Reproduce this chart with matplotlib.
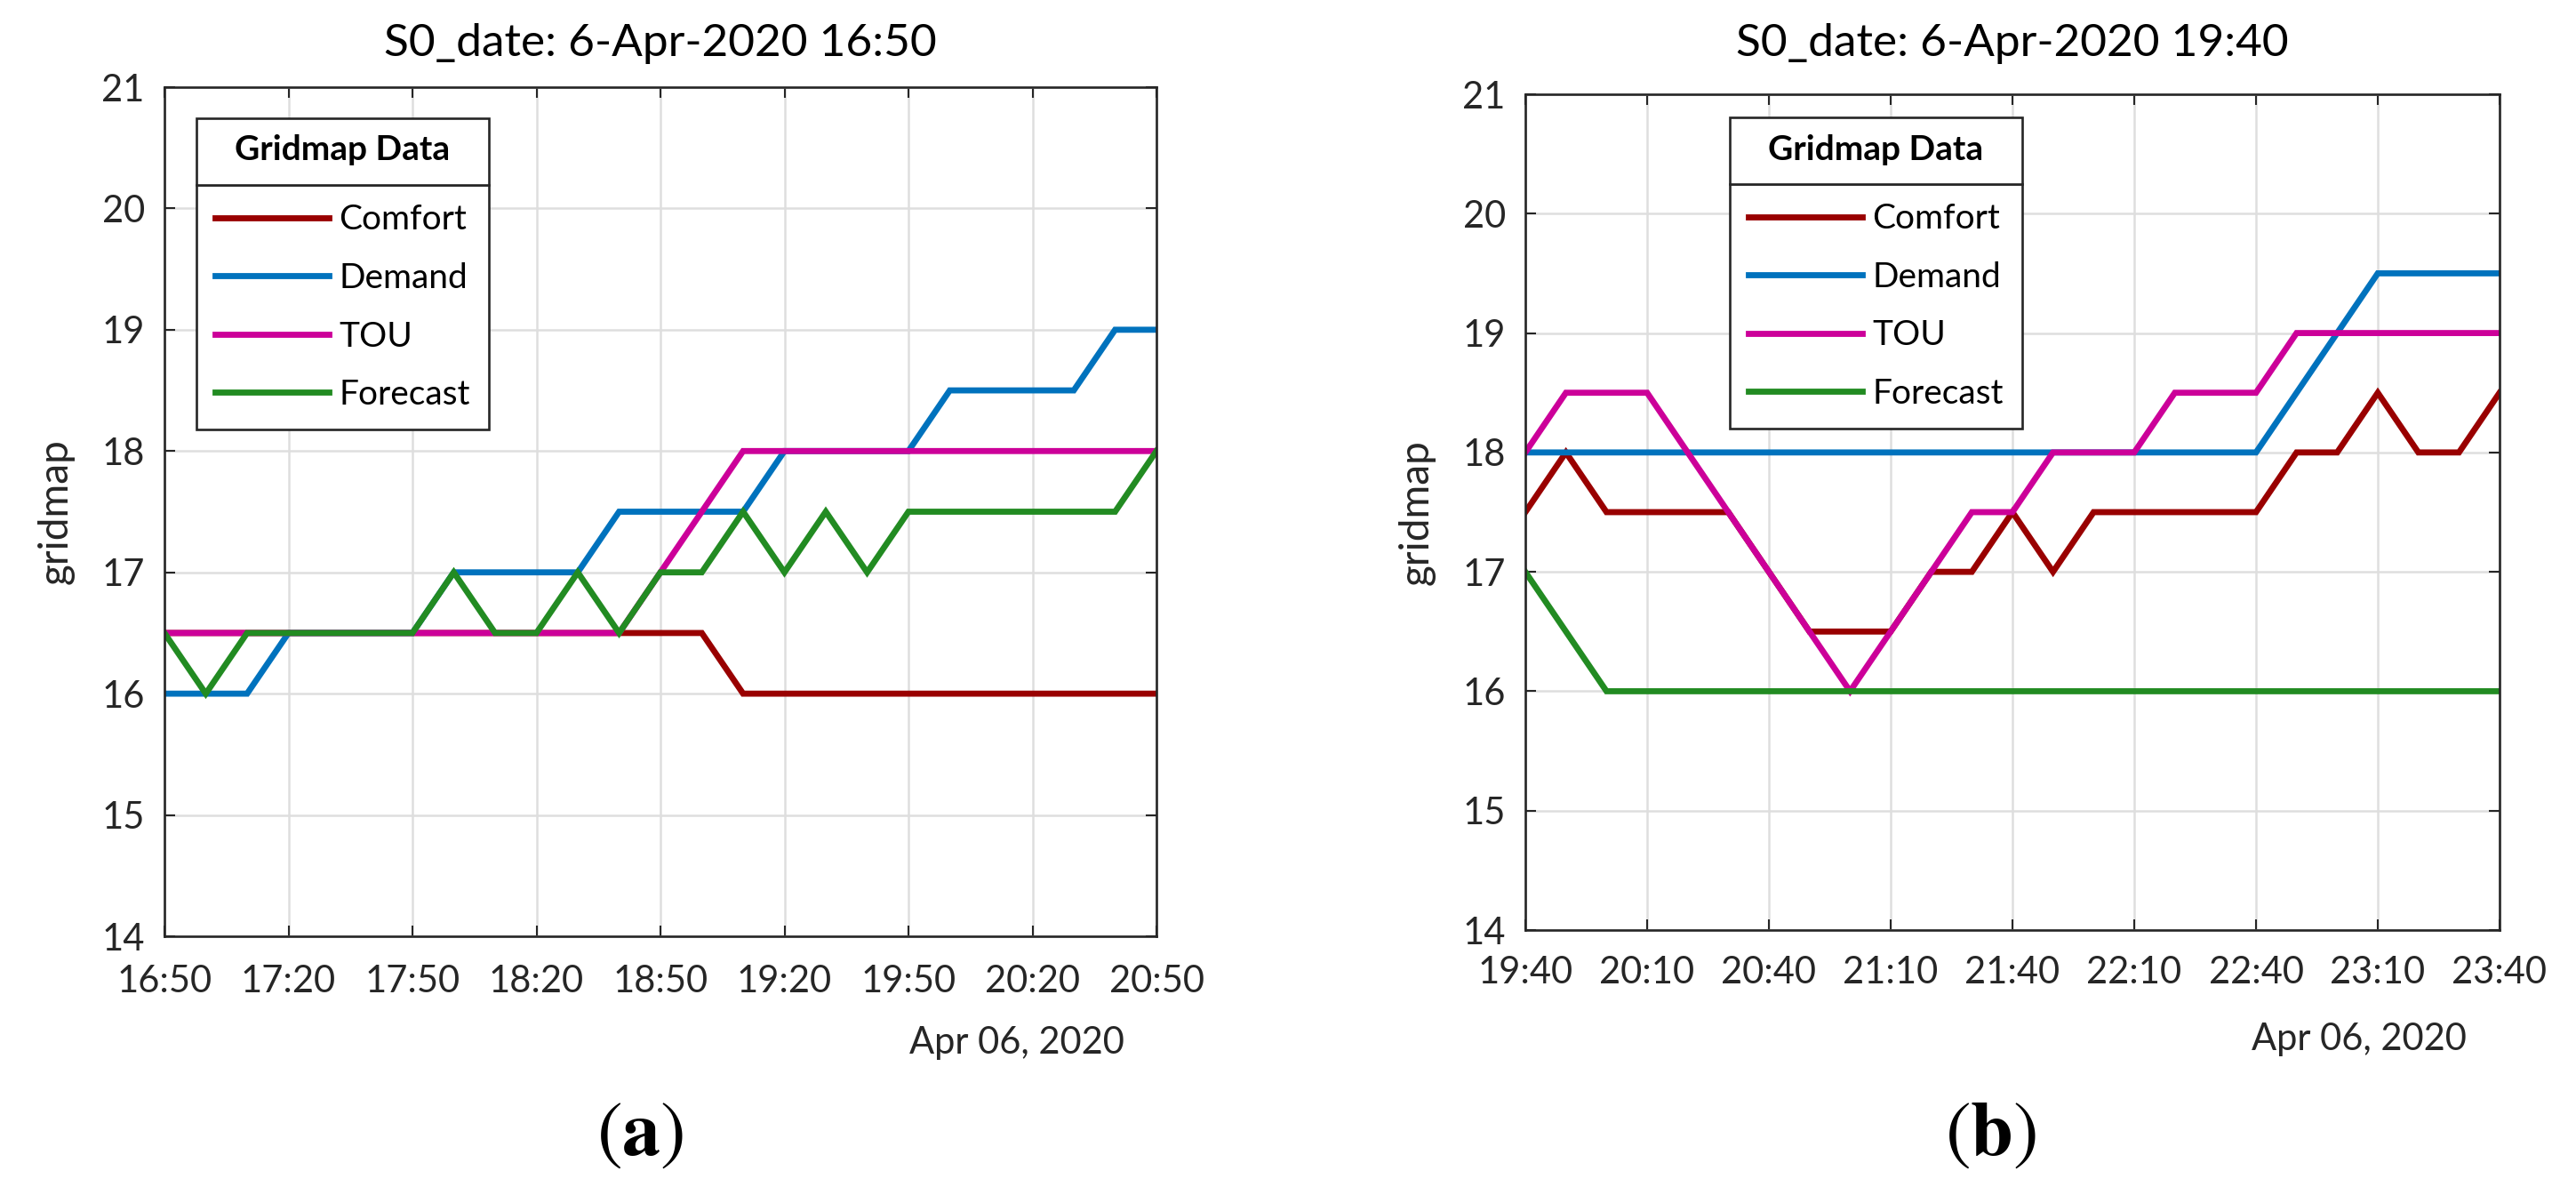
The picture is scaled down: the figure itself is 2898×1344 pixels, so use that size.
import matplotlib
matplotlib.use('Agg')
import matplotlib.pyplot as plt
import matplotlib.patches as mpatches
import pandas as pd

plt.rcParams['font.family'] = ['Lato', 'DejaVu Sans']
plt.rcParams['mathtext.fontset'] = 'stix'

# ---------------- data ----------------
series_names = ['Comfort', 'Demand', 'TOU', 'Forecast']
series_colors = ['#990000', '#0072BD', '#CC0099', '#228B22']

start_a, end_a = '2020-04-06 16:50', '2020-04-06 20:50'
comfort_a = [16.5, 16.5, 16.5, 16.5, 16.5, 16.5, 16.5, 16.5, 16.5, 16.5, 16.5, 16.5, 16.5, 16.5,
             16, 16, 16, 16, 16, 16, 16, 16, 16, 16, 16]
demand_a = [16, 16, 16, 16.5, 16.5, 16.5, 16.5, 17, 17, 17, 17, 17.5, 17.5, 17.5, 17.5,
            18, 18, 18, 18, 18.5, 18.5, 18.5, 18.5, 19, 19]
tou_a = [16.5, 16.5, 16.5, 16.5, 16.5, 16.5, 16.5, 16.5, 16.5, 16.5, 16.5, 16.5, 17, 17.5,
         18, 18, 18, 18, 18, 18, 18, 18, 18, 18, 18]
forecast_a = [16.5, 16, 16.5, 16.5, 16.5, 16.5, 16.5, 17, 16.5, 16.5, 17, 16.5, 17, 17, 17.5,
              17, 17.5, 17, 17.5, 17.5, 17.5, 17.5, 17.5, 17.5, 18]
ticks_a = ['16:50', '17:20', '17:50', '18:20', '18:50', '19:20', '19:50', '20:20', '20:50']
title_a = 'S0_date: 6-Apr-2020 16:50'

start_b, end_b = '2020-04-06 19:40', '2020-04-06 23:40'
comfort_b = [17.5, 18, 17.5, 17.5, 17.5, 17.5, 17, 16.5, 16.5, 16.5, 17, 17, 17.5, 17, 17.5,
             17.5, 17.5, 17.5, 17.5, 18, 18, 18.5, 18, 18, 18.5]
demand_b = [18, 18, 18, 18, 18, 18, 18, 18, 18, 18, 18, 18, 18, 18, 18, 18, 18, 18, 18,
            18.5, 19, 19.5, 19.5, 19.5, 19.5]
tou_b = [18, 18.5, 18.5, 18.5, 18, 17.5, 17, 16.5, 16, 16.5, 17, 17.5, 17.5, 18, 18, 18,
         18.5, 18.5, 18.5, 19, 19, 19, 19, 19, 19]
forecast_b = [17, 16.5, 16, 16, 16, 16, 16, 16, 16, 16, 16, 16, 16, 16, 16, 16, 16, 16, 16,
              16, 16, 16, 16, 16, 16]
ticks_b = ['19:40', '20:10', '20:40', '21:10', '21:40', '22:10', '22:40', '23:10', '23:40']
title_b = 'S0_date: 6-Apr-2020 19:40'

date_label = 'Apr 06, 2020'
y_ticks = [14, 15, 16, 17, 18, 19, 20, 21]
y_label = 'gridmap'
legend_title = 'Gridmap Data'
panel_labels = ['a', 'b']

# ---------------- layout ----------------
W, H, DPI = 2898, 1344, 100
fig = plt.figure(figsize=(W / DPI, H / DPI), dpi=DPI)


def fx(px):
    return px / W


def fy(py):
    return 1 - py / H


DARK = '#262626'
FS = 30
FS_LEG = 28
LW = 4.9

panels = [
    dict(start=start_a, end=end_a, data=[comfort_a, demand_a, tou_a, forecast_a],
         ticks=ticks_a, title=title_a, box=(185, 98, 1301, 1053),
         leg=(221, 208, 133), xpad=23, date_xy=(1265, 1185), ylab_x=63,
         plab=(720, 1277), title_y=63),
    dict(start=start_b, end=end_b, data=[comfort_b, demand_b, tou_b, forecast_b],
         ticks=ticks_b, title=title_b, box=(1716, 106, 2812, 1046),
         leg=(1946, 207, 132), xpad=21, date_xy=(2775, 1181), ylab_x=1594,
         plab=(2240, 1277), title_y=63),
]

legends = []
for i, p in enumerate(panels):
    x0, y0, x1, y1 = p['box']
    ax = fig.add_axes([fx(x0), fy(y1), fx(x1 - x0), (y1 - y0) / H])
    times = pd.date_range(p['start'], p['end'], freq='10min')
    for name, col, vals in zip(series_names, series_colors, p['data']):
        ax.plot(times, vals, color=col, lw=LW, label=name, solid_joinstyle='miter')
    ax.set_xlim(times[0], times[-1])
    ax.set_ylim(14, 21)
    tick_pos = pd.to_datetime(['2020-04-06 ' + t for t in p['ticks']])
    ax.set_xticks(tick_pos)
    ax.set_xticklabels(p['ticks'])
    ax.set_yticks(y_ticks)
    ax.set_yticklabels([str(v) for v in y_ticks])
    ax.grid(True, color='#dedede', lw=1.8)
    ax.set_axisbelow(True)
    for s in ax.spines.values():
        s.set_linewidth(1.9)
        s.set_color(DARK)
    ax.tick_params(direction='in', top=True, right=True, length=8.6, width=1.5,
                   color=DARK, labelcolor=DARK, labelsize=FS)
    ax.tick_params(axis='x', pad=p['xpad'])
    ax.tick_params(axis='y', pad=16)

    lx, sep_y, top_y = p['leg']
    leg = ax.legend(loc='upper left', bbox_to_anchor=(fx(lx), fy(sep_y)),
                    bbox_transform=fig.transFigure, borderaxespad=0, frameon=True,
                    fancybox=False, framealpha=1, edgecolor=DARK, fontsize=FS_LEG,
                    handlelength=3.29, handletextpad=0.28, borderpad=0.55,
                    labelspacing=0.76)
    leg.get_frame().set_linewidth(1.9)
    for t in leg.get_texts():
        t.set_color('black')
    legends.append(leg)

    fig.text(fx((x0 + x1) / 2), fy(p['title_y']), p['title'], ha='center',
             va='baseline', fontsize=37, color='black')
    fig.text(fx(p['ylab_x']), fy((y0 + y1) / 2), y_label, rotation=90, ha='center',
             va='center', fontsize=33, color=DARK)
    dx, dy = p['date_xy']
    fig.text(fx(dx), fy(dy), date_label, ha='right', va='baseline', fontsize=FS,
             color=DARK)
    px, py = p['plab']
    fig.text(fx(px), fy(py), r'$(\mathbf{' + panel_labels[i] + r'})$', ha='center',
             va='center', fontsize=62, color='black')

# legend title boxes
fig.canvas.draw()
renderer = fig.canvas.get_renderer()
for p, leg in zip(panels, legends):
    bb = leg.get_window_extent(renderer)
    lx, sep_y, top_y = p['leg']
    top_disp = H - top_y
    rect = mpatches.Rectangle((bb.x0 / W, bb.y1 / H), (bb.x1 - bb.x0) / W,
                              (top_disp - bb.y1) / H, transform=fig.transFigure,
                              facecolor='white', edgecolor=DARK, lw=1.9, zorder=5)
    fig.add_artist(rect)
    mid = (top_y + (H - bb.y1)) / 2
    fig.text((bb.x0 + bb.x1) / 2 / W, fy(mid + 10), legend_title, ha='center',
             va='baseline', fontsize=FS_LEG, fontweight='bold', color='black', zorder=6)

fig.savefig('out.png', dpi=DPI)
